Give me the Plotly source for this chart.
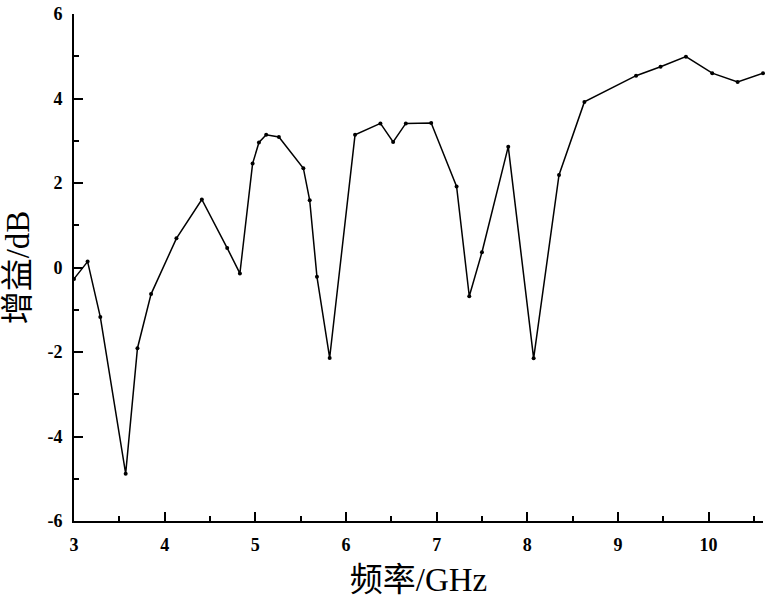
import plotly.graph_objects as go

# 频率 (GHz) 与 增益 (dB)
freq = [3.00, 3.15, 3.29, 3.57, 3.70, 3.85, 4.13, 4.41, 4.69, 4.83, 4.97, 5.04, 5.12, 5.26,
        5.53, 5.60, 5.68, 5.82, 6.10, 6.38, 6.52, 6.66, 6.94, 7.22, 7.36, 7.50, 7.79, 8.07,
        8.35, 8.63, 9.20, 9.47, 9.75, 10.04, 10.32, 10.60]
gain = [-0.27, 0.14, -1.17, -4.88, -1.91, -0.63, 0.69, 1.61, 0.46, -0.14, 2.46, 2.96, 3.14, 3.09,
        2.35, 1.59, -0.22, -2.14, 3.14, 3.41, 2.97, 3.41, 3.42, 1.92, -0.68, 0.36, 2.86, -2.15,
        2.19, 3.92, 4.54, 4.75, 4.99, 4.60, 4.39, 4.60]

x_ticks = [3, 4, 5, 6, 7, 8, 9, 10]
y_ticks = [-6, -4, -2, 0, 2, 4, 6]

FONT = "Liberation Serif, Times New Roman, Noto Sans CJK SC, serif"

fig = go.Figure()

fig.add_trace(go.Scatter(
    x=freq,
    y=gain,
    mode='lines+markers',
    line=dict(color='#000000', width=1.5),
    marker=dict(size=4, color='#000000'),
    cliponaxis=False,
    showlegend=False
))

axis_common = dict(
    showline=True, linecolor='#000000', linewidth=2,
    ticks='inside', ticklen=9, tickwidth=1.5, tickcolor='#000000',
    showgrid=False, zeroline=False, mirror=False, automargin=False,
    tickmode='array',
    tickfont=dict(family=FONT, size=18, color='#000000'),
)

fig.update_layout(
    width=768, height=604,
    paper_bgcolor='#ffffff',
    plot_bgcolor='#ffffff',
    margin=dict(l=74, r=5, t=14, b=83),
    xaxis=dict(
        range=[3, 10.6], tickvals=x_ticks,
        ticktext=['<b>%d</b>' % t for t in x_ticks],
        ticklabelstandoff=6,
        minor=dict(dtick=0.5, ticks='inside', ticklen=5, tickwidth=1.5, tickcolor='#000000'),
        title=dict(text='频率/GHz', font=dict(family=FONT, size=33, color='#000000'), standoff=14),
        **axis_common
    ),
    yaxis=dict(
        range=[-6, 6], tickvals=y_ticks,
        ticktext=['<b>%d</b>' % t for t in y_ticks],
        ticklabelstandoff=6,
        minor=dict(dtick=1, ticks='inside', ticklen=5, tickwidth=1.5, tickcolor='#000000'),
        title=dict(text='增益/dB', font=dict(family=FONT, size=33, color='#000000'), standoff=13),
        **axis_common
    ),
)

# 去掉页面默认边距，让图表贴齐窗口左上角
fig.write_html("out.html", config={'displayModeBar': False},
               post_script="document.body.style.margin='0';")
